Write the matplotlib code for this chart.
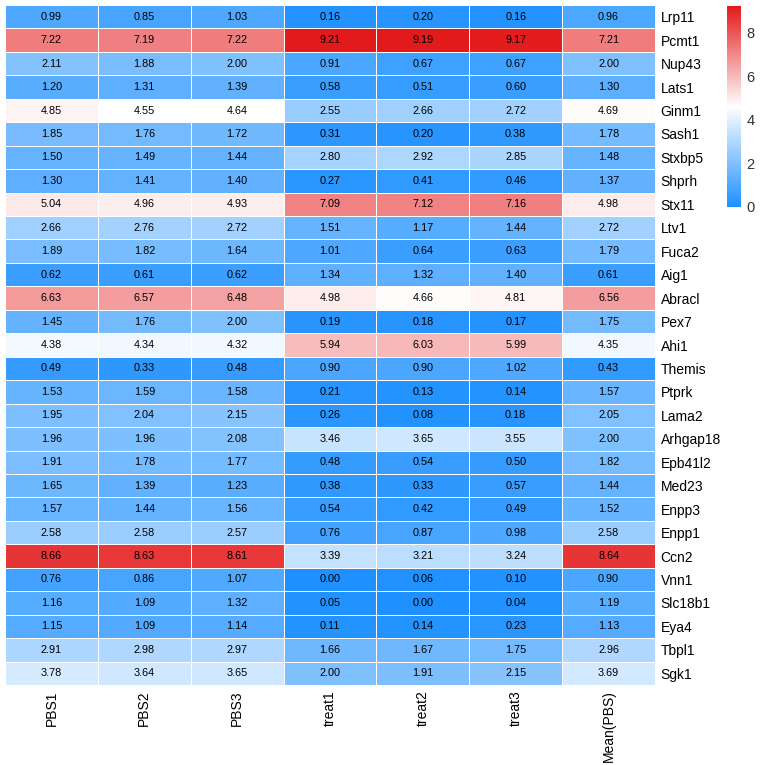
import numpy as np
import matplotlib
matplotlib.use('Agg')
import matplotlib.pyplot as plt
from matplotlib.colors import LinearSegmentedColormap

plt.rcParams.update({
    'font.family': ['Liberation Sans', 'DejaVu Sans'],
})

samples = ['PBS1', 'PBS2', 'PBS3', 'treat1', 'treat2', 'treat3', 'Mean(PBS)']
genes = ['Lrp11', 'Pcmt1', 'Nup43', 'Lats1', 'Ginm1', 'Sash1', 'Stxbp5', 'Shprh',
         'Stx11', 'Ltv1', 'Fuca2', 'Aig1', 'Abracl', 'Pex7', 'Ahi1', 'Themis',
         'Ptprk', 'Lama2', 'Arhgap18', 'Epb41l2', 'Med23', 'Enpp3', 'Enpp1',
         'Ccn2', 'Vnn1', 'Slc18b1', 'Eya4', 'Tbpl1', 'Sgk1']

pbs1 = [0.99, 7.22, 2.11, 1.20, 4.85, 1.85, 1.50, 1.30, 5.04, 2.66, 1.89, 0.62, 6.63, 1.45, 4.38,
        0.49, 1.53, 1.95, 1.96, 1.91, 1.65, 1.57, 2.58, 8.66, 0.76, 1.16, 1.15, 2.91, 3.78]
pbs2 = [0.85, 7.19, 1.88, 1.31, 4.55, 1.76, 1.49, 1.41, 4.96, 2.76, 1.82, 0.61, 6.57, 1.76, 4.34,
        0.33, 1.59, 2.04, 1.96, 1.78, 1.39, 1.44, 2.58, 8.63, 0.86, 1.09, 1.09, 2.98, 3.64]
pbs3 = [1.03, 7.22, 2.00, 1.39, 4.64, 1.72, 1.44, 1.40, 4.93, 2.72, 1.64, 0.62, 6.48, 2.00, 4.32,
        0.48, 1.58, 2.15, 2.08, 1.77, 1.23, 1.56, 2.57, 8.61, 1.07, 1.32, 1.14, 2.97, 3.65]
treat1 = [0.16, 9.21, 0.91, 0.58, 2.55, 0.31, 2.80, 0.27, 7.09, 1.51, 1.01, 1.34, 4.98, 0.19, 5.94,
          0.90, 0.21, 0.26, 3.46, 0.48, 0.38, 0.54, 0.76, 3.39, 0.00, 0.05, 0.11, 1.66, 2.00]
treat2 = [0.20, 9.19, 0.67, 0.51, 2.66, 0.20, 2.92, 0.41, 7.12, 1.17, 0.64, 1.32, 4.66, 0.18, 6.03,
          0.90, 0.13, 0.08, 3.65, 0.54, 0.33, 0.42, 0.87, 3.21, 0.06, 0.00, 0.14, 1.67, 1.91]
treat3 = [0.16, 9.17, 0.67, 0.60, 2.72, 0.38, 2.85, 0.46, 7.16, 1.44, 0.63, 1.40, 4.81, 0.17, 5.99,
          1.02, 0.14, 0.18, 3.55, 0.50, 0.57, 0.49, 0.98, 3.24, 0.10, 0.04, 0.23, 1.75, 2.15]
mean_pbs = [0.96, 7.21, 2.00, 1.30, 4.69, 1.78, 1.48, 1.37, 4.98, 2.72, 1.79, 0.61, 6.56, 1.75, 4.35,
            0.43, 1.57, 2.05, 2.00, 1.82, 1.44, 1.52, 2.58, 8.64, 0.90, 1.19, 1.13, 2.96, 3.69]

mat = np.array([pbs1, pbs2, pbs3, treat1, treat2, treat3, mean_pbs]).T

cmap = LinearSegmentedColormap.from_list('bwr_ph', ['#1E90FF', '#FFFFFF', '#E31A1C'], N=256)

W, H = 766, 765
fig = plt.figure(figsize=(W / 100, H / 100), dpi=100)
ax = fig.add_axes([5 / W, 1 - 685 / H, 650 / W, 680 / H])

nr, nc = mat.shape
mesh = ax.pcolormesh(np.arange(nc + 1), np.arange(nr + 1), mat, cmap=cmap,
                     vmin=mat.min(), vmax=mat.max(), edgecolors='white', linewidth=0.6)
ax.set_xlim(0, nc)
ax.set_ylim(nr, 0)

for i in range(nr):
    for j in range(nc):
        ax.text(j + 0.5, i + 0.5, f'{mat[i, j]:.2f}', ha='center', va='center',
                fontsize=7.8, color='black')

ax.set_xticks(np.arange(nc) + 0.5)
ax.set_xticklabels(samples, rotation=90, fontsize=10)
ax.set_yticks(np.arange(nr) + 0.5)
ax.set_yticklabels(genes, fontsize=10)
ax.yaxis.tick_right()
ax.tick_params(length=0, pad=4)
for s in ax.spines.values():
    s.set_visible(False)

cax = fig.add_axes([727 / W, 1 - 207 / H, 14 / W, 201 / H])
cb = fig.colorbar(mesh, cax=cax, ticks=[0, 2, 4, 6, 8])
cb.outline.set_visible(False)
cb.ax.tick_params(length=0, labelsize=10.5, pad=4, colors='#333333')

fig.savefig('out.png', dpi=100)
